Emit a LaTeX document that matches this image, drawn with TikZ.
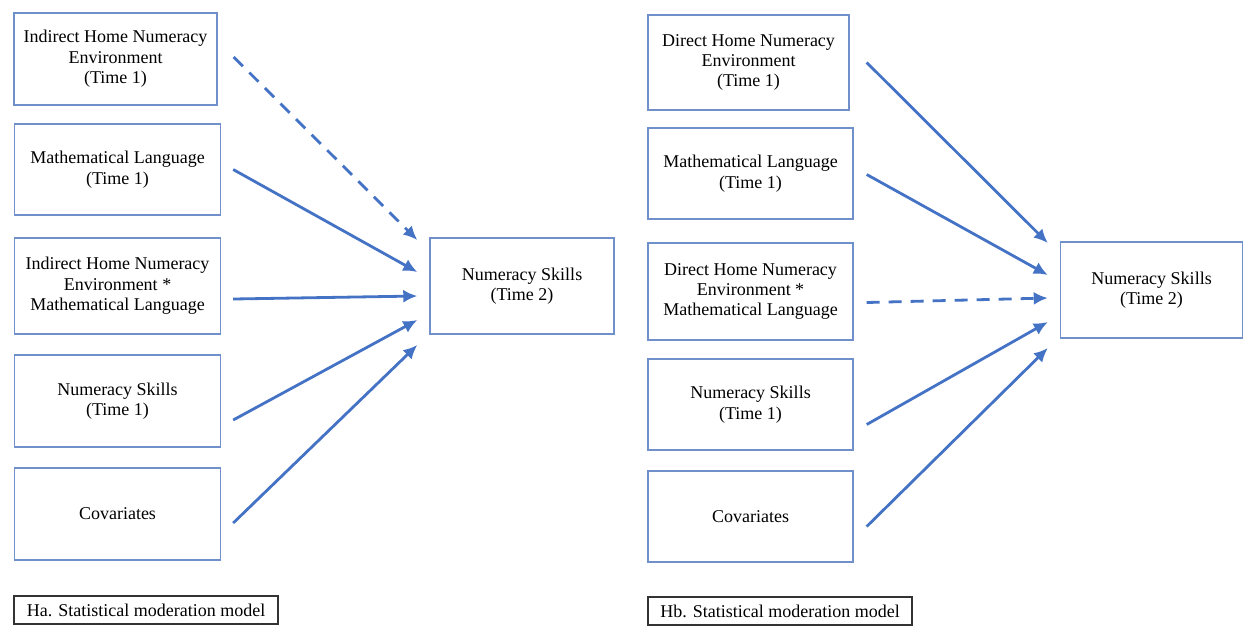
\documentclass[tikz,border=0pt]{standalone}
\usepackage{fontspec}
\setmainfont{Liberation Serif}
\usetikzlibrary{arrows.meta,calc}
\definecolor{boxblue}{HTML}{7090CC}
\definecolor{arrowblue}{HTML}{4472C4}

\begin{document}
\begin{tikzpicture}[x=0.5pt,y=-0.5pt,line cap=butt,line join=miter,>={Latex[length=7pt,width=6.5pt]},font=\fontsize{9}{10.2}\selectfont]
	\tikzset{var/.style={draw=boxblue,line width=0.7pt,align=center,inner sep=0pt,minimum width=103pt,minimum height=46pt},
		link/.style={->,draw=arrowblue,line width=1.4pt},
		modlink/.style={link,dash pattern=on 6.5pt off 4.5pt},
		caption/.style={draw=black!80,line width=0.6pt,inner xsep=5pt,minimum width=132pt,minimum height=14pt}}
	\useasboundingbox (0,0) rectangle (1243,634);
	%--------- Ha
	\node[var,minimum width=101.5pt] (ihne1) at (115.5,59) {Indirect Home Numeracy\\Environment\\(Time 1)};
	\node[var,minimum height=45.5pt] (ml1) at (117.5,169.5) {Mathematical Language\\(Time 1)};
	\node[var,minimum height=48pt] (int1) at (117.5,286) {Indirect Home Numeracy\\Environment *\\Mathematical Language};
	\node[var] (ns1) at (117.5,401) {Numeracy Skills\\(Time 1)};
	\node[var] (cov1) at (117.5,514) {Covariates};
	\node[var,minimum width=92pt,minimum height=48pt] (out1) at (522,286) {Numeracy Skills\\(Time 2)};
	\node[caption] (cap1) at (146,610) {Ha. Statistical moderation model};
	\draw[modlink] ($(ihne1.east)+(16,-2)$) -- ($(out1.west)+(-12,-46)$);
	\draw[link] ($(ml1.east)+(12,0)$) -- ($(out1.west)+(-12,-14)$);
	\draw[link] ($(int1.east)+(12,13)$) -- ($(out1.west)+(-12,10)$);
	\draw[link] ($(ns1.east)+(12,19)$) -- ($(out1.west)+(-12,34)$);
	\draw[link] ($(cov1.east)+(12,9)$) -- ($(out1.west)+(-12,59)$);
	%--------- Hb
	\node[var,minimum width=100.5pt,minimum height=47.5pt] (dhne2) at (748.5,62.5) {Direct Home Numeracy\\Environment\\(Time 1)};
	\node[var,minimum width=102.5pt,minimum height=45.5pt] (ml2) at (750.5,173.5) {Mathematical Language\\(Time 1)};
	\node[var,minimum width=102.5pt,minimum height=48.5pt] (int2) at (750.5,291.5) {Direct Home Numeracy\\Environment *\\Mathematical Language};
	\node[var,minimum width=102.5pt,minimum height=45.5pt] (ns2) at (750.5,404.5) {Numeracy Skills\\(Time 1)};
	\node[var,minimum width=102.5pt,minimum height=45.5pt] (cov2) at (750.5,516.5) {Covariates};
	\node[var,minimum width=91pt,minimum height=48pt] (out2) at (1151.5,290) {Numeracy Skills\\(Time 2)};
	\node[caption] (cap2) at (780,611) {Hb. Statistical moderation model};
	\draw[link] ($(dhne2.east)+(17,0)$) -- ($(out2.west)+(-12,-47)$);
	\draw[link] ($(ml2.east)+(13,1)$) -- ($(out2.west)+(-12,-15)$);
	\draw[modlink] ($(int2.east)+(13,11)$) -- ($(out2.west)+(-12,8)$);
	\draw[link] ($(ns2.east)+(13,20)$) -- ($(out2.west)+(-12,32)$);
	\draw[link] ($(cov2.east)+(13,10)$) -- ($(out2.west)+(-12,58)$);
\end{tikzpicture}
\end{document}
